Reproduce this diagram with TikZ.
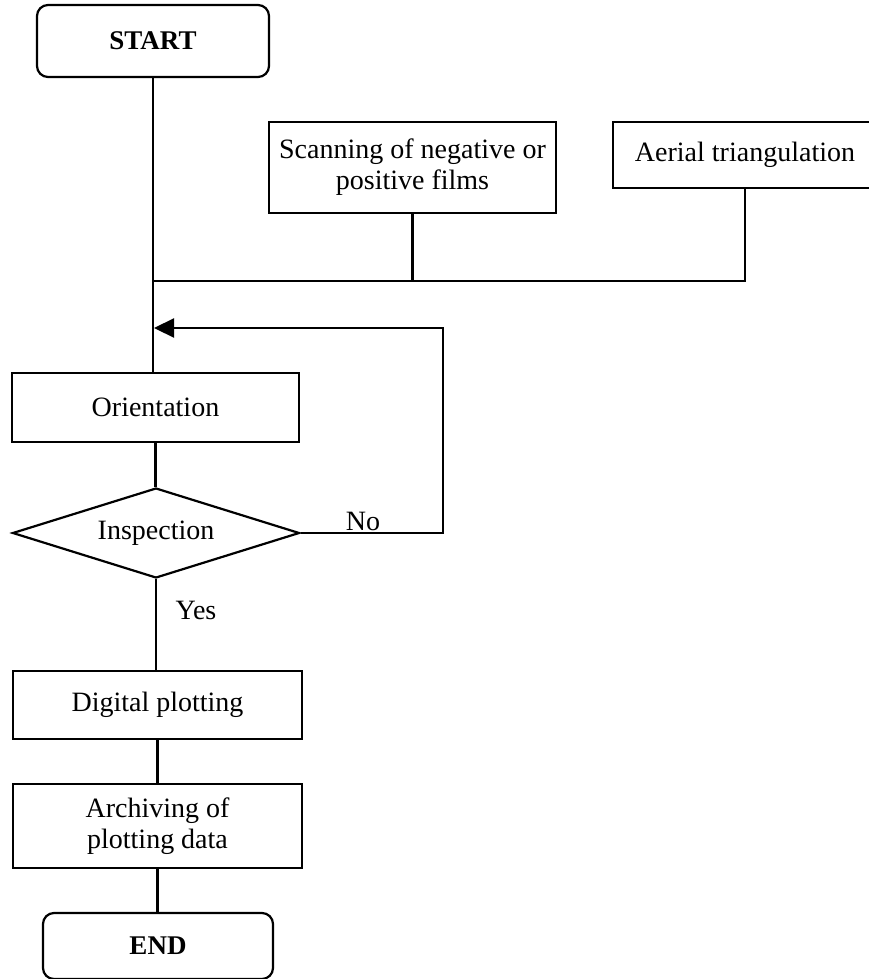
\documentclass[tikz,border=0pt]{standalone}
\usepackage{fontspec}
\setmainfont{Liberation Serif}
\usetikzlibrary{arrows.meta,shapes.geometric}
\begin{document}
\begin{tikzpicture}[x=1pt,y=-1pt,line width=2.2pt,
  box/.style={draw, rectangle, inner sep=0pt, align=center,
    font=\fontsize{28}{31}\selectfont},
  terminal/.style={box, rounded corners=11pt,
    font=\fontsize{27}{30}\selectfont\bfseries},
  decision/.style={draw, diamond, aspect=3.2, inner sep=0pt,
    font=\fontsize{28}{31}\selectfont},
  tag/.style={inner sep=0pt, font=\fontsize{28}{31}\selectfont},
  back/.style={-{Triangle[length=20pt,width=19pt]}}
]
% page area
\fill[white] (0,0) rectangle (869,979);
\useasboundingbox (0,0) rectangle (869,979);
\clip (0,0) rectangle (869,979);

% process steps
\node[terminal, minimum width=232pt, minimum height=72pt] (start) at (153,41) {START};
\node[box, minimum width=287pt, minimum height=91pt] (scan) at (412.5,167.5)
  {Scanning of negative or\\positive films};
% this box runs past the right edge of the page
\node[box, minimum width=264pt, minimum height=66pt] (aerial) at (745,155)
  {Aerial triangulation};
\node[box, minimum width=287pt, minimum height=69pt] (orient) at (155.5,407.5) {Orientation};
\node[decision, minimum width=287pt, minimum height=90pt] (insp) at (156,533) {Inspection};
\node[box, minimum width=289pt, minimum height=68pt] (plot) at (157.5,705) {Digital plotting};
\node[box, minimum width=289pt, minimum height=84pt] (archive) at (157.5,826)
  {Archiving of\\plotting data};
\node[terminal, minimum width=230pt, minimum height=66pt] (end) at (158,946) {END};

% junction points on the main line
\coordinate (join) at (154,281);
\coordinate (merge) at (154,328);
\coordinate (loop) at (443,328);

% connectors
\draw (start.south) -- (start.south |- orient.north);
\draw (scan.south) |- (join);
\draw (aerial.south) |- (join);
\draw[back] (insp.east) -| (loop) -- (merge);
\draw (orient.south) -- (orient.south |- insp.north);
\draw (insp.south) -- (insp.south |- plot.north);
\draw (plot.south) -- (plot.south |- archive.north);
\draw (archive.south) -- (archive.south |- end.north);

% branch labels
\node[tag] (no) at (363,521) {No};
\node[tag] (yes) at (196,610) {Yes};
\end{tikzpicture}
\end{document}
